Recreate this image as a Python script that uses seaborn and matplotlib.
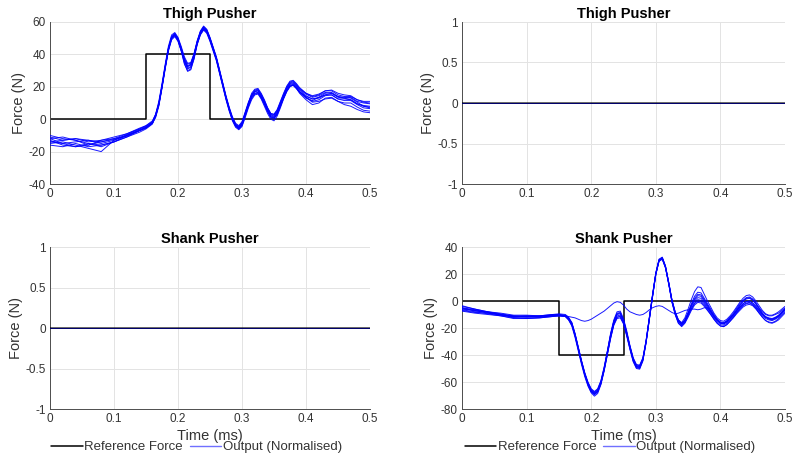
import numpy as np
import pandas as pd
import matplotlib
matplotlib.use("Agg")
import matplotlib.pyplot as plt
from matplotlib.lines import Line2D
import seaborn as sns

# ---------------- data ----------------
# Thigh pusher (top-left) time grid
thigh_t = ([0, .02, .04, .06, .08, .10, .12, .14, .15, .16]
           + [round(.165 + .005 * i, 3) for i in range(27)]      # .165 .. .295
           + [round(.30 + .005 * i, 3) for i in range(17)]       # .30 .. .38
           + [.385, .39, .40, .41, .42, .43, .44, .45, .46, .47, .48, .49, .50])

thigh_traces = [
    # early (10) + rise (27) + late (17) + tail (13)
    [-10, -12, -13, -16, -13, -11, -9, -6, -4, -1.5,
     3, 10, 21, 33, 44, 51, 53, 50, 44, 37, 33, 34, 40, 48, 54, 57, 55, 50, 44, 38, 30, 22, 14, 7, 1, -3, -4.5,
     -2, 4, 10, 16, 18.5, 19, 16, 12, 7, 3.5, 3, 6, 11, 16, 20.5, 23.5, 24,
     22, 19.5, 16, 14, 15, 17.5, 18, 16, 15, 14.5, 12, 11, 11],
    [-13, -16, -17, -15, -16, -14, -11, -7, -5.5, -2.5,
     1, 8, 19, 31, 42, 49, 51, 48, 42, 34, 30, 31, 37, 46, 52, 55, 53, 48, 42, 36, 28, 20, 12, 5, -1, -5, -6.5,
     -4.5, 1, 7, 12, 15, 15.5, 12.5, 8, 3.5, 0, -1, 2, 7, 12.5, 17, 20, 21,
     19, 16, 12, 9, 10, 13, 13.5, 11, 10, 10, 7.5, 5.5, 5],
    [-15, -14, -16, -18, -20, -13, -10, -7, -5, -2,
     2, 9, 20, 32, 43, 50, 52, 49, 43, 36, 31, 32, 38, 47, 53, 56, 54, 49, 43, 37, 29, 21, 13, 6, 0, -4, -6,
     -3.5, 2, 8, 13, 16, 16.5, 13.5, 9.5, 5, 1.5, 0.5, 3, 8, 13, 17.5, 20.5, 21,
     19, 16.5, 13, 11.5, 13.5, 16, 16.5, 14, 13.5, 13, 10.5, 8, 7],
    [-11, -13, -12, -14, -13, -12, -9, -5.5, -4, -1,
     3, 11, 22, 34, 45, 52, 53.5, 50.5, 45, 38.5, 34.5, 35, 40.5, 48.5, 54.5, 57.5, 55.5, 50.5, 44.5, 38.5, 30.5, 22.5, 14.5, 7.5, 1.5, -2.5, -4,
     -1.5, 4.5, 10.5, 15, 17.5, 18, 15, 11, 6.5, 3, 2.5, 5, 10, 15, 19.5, 22.5, 23,
     21, 18.5, 15.5, 13.5, 14.5, 16.5, 16, 13.5, 13, 13.5, 11, 10, 9.5],
    [-14, -15, -17, -16, -14, -12, -10.5, -7, -5.5, -2.5,
     1.5, 8.5, 19.5, 31.5, 42.5, 49.5, 51.5, 48.5, 42.5, 35.5, 31.5, 32.5, 38.5, 46.5, 52.5, 55.5, 53.5, 48.5, 42.5, 36.5, 28.5, 20.5, 12.5, 5.5, -0.5, -4.5, -6,
     -4, 2, 8, 13, 15.5, 16, 13, 9, 4.5, 1, 0.5, 3, 8, 13, 17.5, 20.5, 21,
     19, 17, 13.5, 11, 12, 14.5, 15, 12.5, 11.5, 11.5, 9, 7, 6.5],
    [-12, -15, -14, -13, -15, -13, -9.5, -6, -4.5, -2,
     2.5, 9.5, 20.5, 32.5, 43.5, 50.5, 52.5, 49.5, 43.5, 36.5, 32.5, 33.5, 39.5, 47.5, 53.5, 56.5, 54.5, 49.5, 43.5, 37.5, 29.5, 21.5, 13.5, 6.5, 0.5, -3.5, -5,
     -2.5, 3.5, 9.5, 14.5, 17, 17.5, 14.5, 10.5, 6, 2.5, 2, 4.5, 9.5, 14.5, 19, 22, 22.5,
     20.5, 18, 14.5, 12.5, 13.5, 15, 15, 12.5, 12.5, 12, 9.5, 8, 7.5],
    [-16, -17, -15, -17, -16, -14, -11, -8, -6, -3,
     2, 9, 20, 32, 43, 50, 52, 49, 43, 36, 32.5, 33.5, 39, 47, 53, 56, 54, 49, 43, 37, 29, 21, 13, 6, 0, -4, -5.5,
     -3, 3, 9, 14, 16, 16.5, 13.5, 9.5, 5, 1.5, 1, 3.5, 8.5, 13.5, 18, 21, 21.5,
     19.5, 17, 14, 12.5, 13, 15, 16, 14, 13, 12, 9.5, 8.5, 8],
    [-12, -11, -13, -15, -17, -14, -10, -6.5, -5, -2,
     2.5, 9.5, 20.5, 32.5, 43.5, 50.5, 52.5, 49, 42.5, 34.5, 29.5, 30.5, 37.5, 46.5, 52.5, 55.5, 54, 49.5, 43.5, 37.5, 29.5, 21.5, 13.5, 6.5, 0.5, -3.5, -5.5,
     -3, 3, 9, 14.5, 17, 17.5, 14, 10, 5.5, 2, 1.5, 4, 9, 14, 18.5, 21.5, 22,
     20, 17, 13.5, 10.5, 11, 12.5, 13, 11, 9, 8, 6, 4.5, 4],
    [-14, -13, -12, -13, -14, -12.5, -10, -7, -5, -2.5,
     2, 9, 20, 32, 43, 50.5, 52.5, 49.5, 44, 37.5, 34, 34.5, 40, 48, 54, 57, 55, 50, 44, 37.5, 29.5, 21.5, 13.5, 6.5, 0.5, -3.5, -5,
     -2.5, 3.5, 9.5, 15, 18, 18.5, 15.5, 11.5, 7, 3.5, 3, 5.5, 10.5, 15.5, 20, 23, 23.5,
     21.5, 19, 16, 14.5, 15.5, 17.5, 17.5, 15, 14, 14, 12, 10.5, 10],
]

# Shank pusher (bottom-right) time grid
shank_t = ([0, .02, .04, .06, .08, .10, .12, .14, .15, .16]
           + [round(.165 + .005 * i, 3) for i in range(68)])     # .165 .. .50

shank_traces = [
    [-4, -6, -8, -9.5, -11, -11, -11, -10, -10, -10.5,
     -12.5, -16, -24, -34, -44, -53, -60, -65, -67, -65, -59, -49, -37, -24, -14, -8, -7.5, -13, -22, -33, -42, -47, -47.5, -42, -29, -12, 5,
     21, 31, 32.5, 26, 14, 1, -8, -14, -16.5, -14, -8.5, -2, 3.5, 6.5, 6, 2, -2, -6, -10, -13.5, -15.5, -16, -14.5, -12, -9, -5.5, -2, 0.5, 2.5, 3, 1.5, -1.5, -5, -8, -10, -11, -11, -10, -9, -7, -5],
    [-6.5, -8, -9.5, -11, -12.5, -13, -12.5, -11.5, -11, -11.5,
     -14, -18.5, -27, -37, -47, -56, -63, -68, -70.5, -68.5, -62, -52, -40, -28, -18, -13, -12.5, -17, -26, -36, -45, -50, -50.5, -44.5, -31, -14, 3,
     19.5, 29.5, 31, 24.5, 12.5, -0.5, -10, -16.5, -19, -16.5, -12, -7, -3, -1, -1.5, -4, -7, -10, -13.5, -16.5, -18.5, -19, -17.5, -15, -12.5, -9.5, -7, -4.5, -3, -2.5, -3.5, -6, -9, -12, -14.5, -15.5, -16, -15, -13, -10.5, -8],
    [-5, -7.5, -8, -10.5, -11, -12, -11, -10.5, -10, -11,
     -13, -17.5, -25.5, -35.5, -45.5, -54.5, -61.5, -66.5, -68.5, -66.5, -60.5, -50.5, -38, -25, -15, -9.5, -9, -14, -23.5, -34, -43, -48.5, -49, -43.5, -30, -13, 4,
     20, 30, 32, 25.5, 13.5, 0.5, -8.5, -14.5, -17, -14.5, -9, -3, 2, 5, 4.5, 1, -3, -7, -11, -14, -16, -16.5, -15, -12.5, -10, -7, -3.5, -0.5, 1.5, 2, 0.5, -2.5, -6, -9.5, -12, -13.5, -14, -13, -11.5, -9, -6.5],
    [-6, -7, -9, -10, -12, -11.5, -12, -11, -11, -11,
     -13.5, -17, -25, -35, -45, -54, -61.5, -66.5, -69, -67, -61, -51, -39, -27, -17, -12, -11.5, -16, -25, -35, -44, -49, -49.5, -43.5, -30.5, -13.5, 3.5,
     20, 30, 31.5, 25, 13, -0.5, -9.5, -15.5, -18, -15.5, -10.5, -5.5, -1.5, 1, 0.5, -2, -5.5, -9, -12.5, -15.5, -17.5, -18, -16.5, -14, -11.5, -8.5, -5.5, -3, -1.5, -1, -2.5, -5, -8, -11, -13, -14, -14.5, -13.5, -12, -9.5, -7],
    [-5, -6.5, -8.5, -10, -11.5, -11, -11.5, -10.5, -10.5, -11,
     -12.5, -16.5, -24.5, -34.5, -44.5, -53.5, -60.5, -65.5, -67.5, -65.5, -59.5, -49.5, -37.5, -25.5, -15.5, -10, -9.5, -14.5, -23.5, -33.5, -42.5, -47.5, -48, -42.5, -29.5, -12.5, 4.5,
     20.5, 30.5, 32, 25.5, 13.5, 0.5, -8, -14, -16, -12.5, -6, 1, 7, 10.5, 10, 5, 0, -4.5, -9, -12.5, -14.5, -15, -13.5, -11, -8, -4.5, -1, 2, 4, 4.5, 3, 0, -3.5, -7, -9.5, -10.5, -10.5, -9.5, -8, -6, -4],
    [-7, -8.5, -9, -10.5, -12, -12, -12, -11, -10.5, -11.5,
     -13, -17, -25.5, -35.5, -45.5, -54.5, -61.5, -67, -69, -67, -61, -51, -39, -26.5, -16.5, -11, -10.5, -15.5, -24.5, -34.5, -43.5, -48.5, -49, -43, -30, -13, 4,
     20, 30, 31.5, 25, 13, 0, -9, -15, -17.5, -15, -10, -4.5, 0, 2.5, 2, -1, -4.5, -8, -11.5, -14.5, -16.5, -17, -15.5, -13, -10.5, -7.5, -4.5, -2, -0.5, 0, -1.5, -4, -7, -10, -12, -13, -13.5, -12.5, -11, -8.5, -6],
    [-3.5, -6, -8, -9, -10.5, -10.5, -11, -10, -9.5, -10,
     -12, -16, -24.5, -34.5, -44.5, -53.5, -61, -66, -68, -66, -60, -50, -37.5, -25, -15, -9, -8.5, -14, -23.5, -34, -43, -48, -48.5, -43, -29.5, -12.5, 4.5,
     20.5, 30.5, 32, 25.5, 13.5, 0.5, -9, -15, -17, -14, -9, -3.5, 1, 4, 3.5, 0, -3.5, -7.5, -11, -14, -16, -16.5, -15, -12.5, -10, -6.5, -3, 0, 2, 2.5, 1, -2, -5.5, -9, -11.5, -12.5, -13, -12, -10.5, -8, -5.5],
    [-7.5, -9, -10, -11, -13, -13, -12.5, -11.5, -11, -11.5,
     -14, -18, -26, -36, -46, -55, -62.5, -67.5, -69.5, -67.5, -61.5, -51.5, -39.5, -27.5, -17.5, -12, -11.5, -16.5, -25.5, -35.5, -44.5, -49.5, -50, -44, -30.5, -13.5, 3.5,
     19.5, 29.5, 31, 24.5, 12.5, -1, -10, -16.5, -18.5, -16, -11, -6, -2, 0, -0.5, -3, -6.5, -10, -13.5, -16.5, -18.5, -19, -17.5, -15, -12, -9, -6, -3.5, -2, -1.5, -3, -5.5, -9, -12, -14.5, -16, -16.5, -15.5, -14, -11.5, -9],
    # trial that barely responded
    [-5.5, -7, -8.5, -10, -11.5, -11.5, -11.5, -10.5, -10.5, -11,
     -11.5, -12, -12.5, -13.5, -14.5, -15, -14.5, -13.5, -12, -10.5, -9, -7.5, -5.5, -3.5, -1.5, -0.5, -1, -3, -6, -8, -9, -10, -10.5, -10, -8.5, -6.5, -5,
     -4, -3.5, -4, -5.5, -7, -8.5, -9.5, -9, -8, -7, -6.5, -6, -6, -6.5, -6, -5, -5, -8, -11.5, -14.5, -16.5, -17, -15.5, -13, -10.5, -7.5, -4.5, -2, -0.5, 0, -1.5, -4, -7, -10, -12, -13, -13.5, -12.5, -11, -8.5, -6],
]

# Reference force steps
thigh_ref_t = [0, 0.15, 0.15, 0.25, 0.25, 0.5]
thigh_ref_f = [0, 0, 40, 40, 0, 0]
shank_ref_t = [0, 0.15, 0.15, 0.25, 0.25, 0.5]
shank_ref_f = [0, 0, -40, -40, 0, 0]
flat_t = [0, 0.5]
flat_f = [0, 0]

titles = ["Thigh Pusher", "Thigh Pusher", "Shank Pusher", "Shank Pusher"]
xticks = [0, 0.1, 0.2, 0.3, 0.4, 0.5]
xticklabels = ["0", "0.1", "0.2", "0.3", "0.4", "0.5"]
yticks_tl = [-40, -20, 0, 20, 40, 60]
yticks_flat = [-1, -0.5, 0, 0.5, 1]
yticklabels_flat = ["-1", "-0.5", "0", "0.5", "1"]
yticks_br = [-80, -60, -40, -20, 0, 20, 40]

# ---------------- style ----------------
sns.set_style("white")
plt.rcParams["font.family"] = ["Liberation Sans", "DejaVu Sans"]
plt.rcParams["axes.unicode_minus"] = False

BLUE = "#0000FF"
TXT = "#333333"
GRID = "#e3e3e3"


def traces_df(t, traces):
    rows = []
    for k, tr in enumerate(traces):
        for ti, fi in zip(t, tr):
            rows.append((k, ti, fi))
    return pd.DataFrame(rows, columns=["trial", "t", "f"])


fig = plt.figure(figsize=(7.93, 4.61), dpi=100)
W, H = 793, 461
boxes = [(50, 22, 320, 162), (462, 22, 323, 162), (50, 247, 320, 162), (462, 247, 323, 162)]
axes = [fig.add_axes([x / W, 1 - (y + h) / H, w / W, h / H]) for x, y, w, h in boxes]

flat_df = traces_df(flat_t, [flat_f] * 3)
datasets = [
    (thigh_ref_t, thigh_ref_f, traces_df(thigh_t, thigh_traces), (-40, 60), yticks_tl, [str(v) for v in yticks_tl]),
    (flat_t, flat_f, flat_df, (-1, 1), yticks_flat, yticklabels_flat),
    (flat_t, flat_f, flat_df, (-1, 1), yticks_flat, yticklabels_flat),
    (shank_ref_t, shank_ref_f, traces_df(shank_t, shank_traces), (-80, 40), yticks_br, [str(v) for v in yticks_br]),
]

for i, (ax, (rt, rf, df, ylim, yt, ytl)) in enumerate(zip(axes, datasets)):
    flat = i in (1, 2)
    ax.grid(True, color=GRID, linewidth=0.7, zorder=0)
    ax.set_axisbelow(True)
    sns.lineplot(data=df, x="t", y="f", units="trial", estimator=None, ax=ax, color=BLUE,
                 linewidth=0.7, alpha=0.9, legend=False, sort=False, zorder=3)
    sns.lineplot(x=rt, y=rf, ax=ax, color="black", linewidth=1.1, estimator=None, sort=False,
                 zorder=4 if flat else 2, alpha=0.75 if flat else 1.0)
    ax.set_xlim(0, 0.5)
    ax.set_ylim(*ylim)
    ax.set_xticks(xticks)
    ax.set_xticklabels(xticklabels)
    ax.set_yticks(yt)
    ax.set_yticklabels(ytl)
    ax.tick_params(direction="in", length=2.5, width=0.6, colors=TXT, labelsize=8.5, pad=3)
    for s in ["top", "right"]:
        ax.spines[s].set_visible(False)
    for s in ["left", "bottom"]:
        ax.spines[s].set_color("#4d4d4d")
        ax.spines[s].set_linewidth(0.7)
    ax.set_title(titles[i], fontsize=10.5, fontweight="bold", color="black", pad=3)
    ax.set_ylabel("Force (N)", fontsize=10.5, color=TXT, labelpad=2)
    if i >= 2:
        ax.set_xlabel("Time (ms)", fontsize=10.5, color=TXT, labelpad=3)
        handles = [Line2D([], [], color="black", linewidth=1.1),
                   Line2D([], [], color="#7070ff", linewidth=1.0)]
        ax.legend(handles, ["Reference Force", "Output (Normalised)"], loc="center",
                  bbox_to_anchor=(0.458, -0.235), ncol=2, frameon=False, fontsize=9.5,
                  handlelength=2.4, handletextpad=0.1, columnspacing=0.5, labelcolor=TXT)
    else:
        ax.set_xlabel("")

fig.savefig("out.png", dpi=100, facecolor="white")
